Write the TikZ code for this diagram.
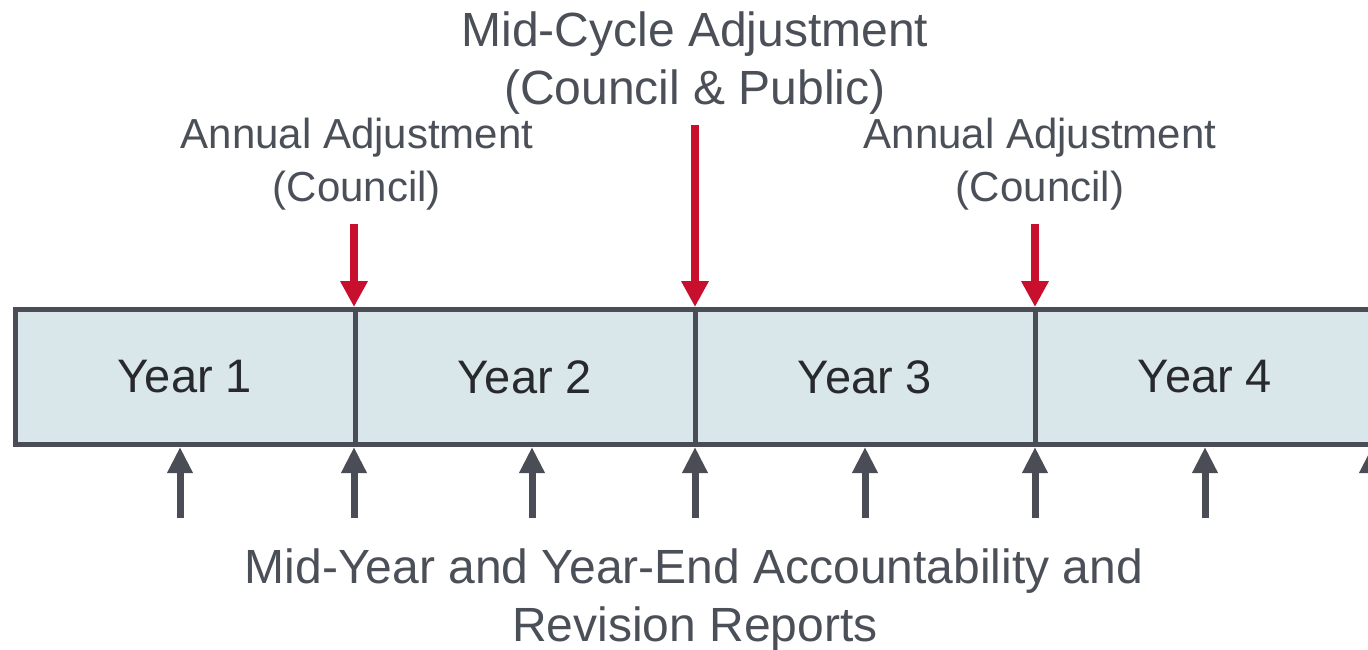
\documentclass[tikz,border=0pt]{standalone}
\usepackage{fontspec}
\setmainfont{Liberation Sans}
\usetikzlibrary{arrows.meta}
\definecolor{boxfill}{HTML}{D9E6EA}
\definecolor{edge}{HTML}{4A4D55}
\definecolor{txt}{HTML}{4B4F58}
\definecolor{yeartxt}{HTML}{27292D}
\definecolor{redarr}{HTML}{C8102E}
\tikzset{
  yearbox/.style={draw=edge, line width=5pt, fill=boxfill, minimum width=340pt,
    minimum height=135pt, inner sep=0pt, text=yeartxt, font=\fontsize{47}{56}\selectfont},
  biglbl/.style={anchor=base, inner sep=0pt, text=txt, font=\fontsize{48}{57}\selectfont},
  midlbl/.style={anchor=base, inner sep=0pt, text=txt, font=\fontsize{42}{50}\selectfont},
  redarrow/.style={draw=redarr, line width=8pt, -{Triangle[width=26pt,length=26pt]}},
  uparrow/.style={draw=edge, line width=7pt, -{Triangle[width=24pt,length=26pt]}}
}
\begin{document}
\begin{tikzpicture}[x=1pt,y=-1pt]
\useasboundingbox (0,0) rectangle (1368,650);
\clip (0,0) rectangle (1368,650);
% year boxes
\node[yearbox] (y1) at (185,377) {Year 1};
\node[yearbox] (y2) at (525,377) {Year 2};
\node[yearbox] (y3) at (865,377) {Year 3};
\node[yearbox] (y4) at (1205,377) {Year 4};
% top labels
\node[biglbl] (mc1) at (695,47) {Mid-Cycle Adjustment};
\node[biglbl] (mc2) at (695,105) {(Council \& Public)};
\node[midlbl] (aa1) at (357,149) {Annual Adjustment};
\node[midlbl] (aa2) at (357,201) {(Council)};
\node[midlbl] (ab1) at (1040,149) {Annual Adjustment};
\node[midlbl] (ab2) at (1040,201) {(Council)};
% bottom label
\node[biglbl] (rr1) at (694,583) {Mid-Year and Year-End Accountability and};
\node[biglbl] (rr2) at (695,641) {Revision Reports};
% red arrows
\coordinate (r1) at (354,224);
\coordinate (r2) at (695,125);
\coordinate (r3) at (1035,224);
\draw[redarrow] (r1) -- (r1 |- y1.north);
\draw[redarrow] (r2) -- (r2 |- y2.north);
\draw[redarrow] (r3) -- (r3 |- y3.north);
% gray up arrows
\foreach \i/\x in {1/180,2/354,3/532,4/695,5/865,6/1035,7/1205,8/1372}{
  \coordinate (b\i) at (\x,518);
  \draw[uparrow] (b\i) -- (b\i |- y1.south);
}
\end{tikzpicture}
\end{document}
